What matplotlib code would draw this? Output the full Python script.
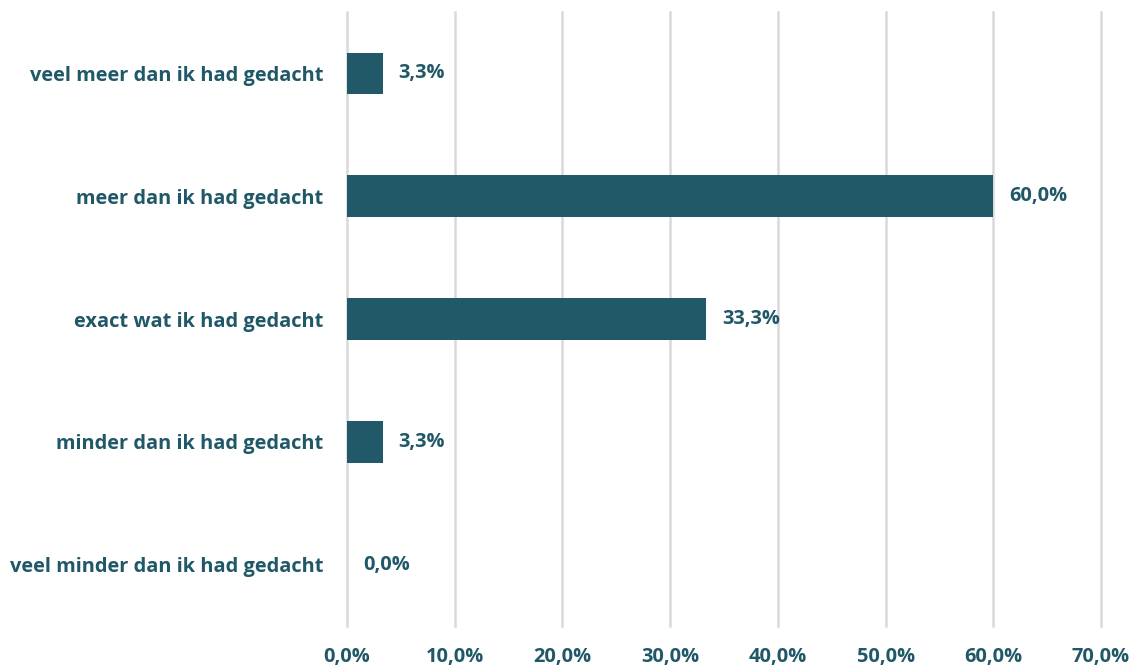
import matplotlib
matplotlib.use("Agg")
import matplotlib.pyplot as plt
from matplotlib.ticker import FuncFormatter

categories = [
    "veel meer dan ik had gedacht",
    "meer dan ik had gedacht",
    "exact wat ik had gedacht",
    "minder dan ik had gedacht",
    "veel minder dan ik had gedacht",
]
values = [3.3, 60.0, 33.3, 3.3, 0.0]
xticks = [0, 10, 20, 30, 40, 50, 60, 70]

BAR = "#215968"
TEXT = "#215868"
GRID = "#d9d9d9"
FS = 14.4

plt.rcParams["font.family"] = ["Open Sans", "DejaVu Sans"]

fig = plt.figure(figsize=(11.37, 6.68), dpi=100)
ax = fig.add_axes([347 / 1137, 1 - 626 / 668, (1101 - 347) / 1137, (626 - 12) / 668])

ypos = list(range(len(categories)))[::-1]
ax.barh(ypos, values, height=0.34, color=BAR, zorder=3)

for y, v in zip(ypos, values):
    ax.text(v + 1.5, y, f"{v:.1f}%".replace(".", ","), va="center", ha="left",
            color=TEXT, fontsize=FS, fontweight="bold", zorder=4)

ax.set_xlim(0, 70)
ax.set_ylim(-0.5, 4.5)
ax.set_xticks(xticks)
ax.xaxis.set_major_formatter(FuncFormatter(lambda x, _: f"{x:.1f}%".replace(".", ",")))
ax.set_yticks(ypos)
ax.set_yticklabels(categories)

ax.grid(axis="x", color=GRID, linewidth=1.8, zorder=0)
# keep the outer gridlines at full width
for gl in ax.get_xgridlines():
    gl.set_clip_on(False)
for s in ax.spines.values():
    s.set_visible(False)
ax.tick_params(axis="both", length=0, colors=TEXT, labelsize=FS)
ax.tick_params(axis="x", pad=15)
ax.tick_params(axis="y", pad=17)
for lab in ax.get_xticklabels() + ax.get_yticklabels():
    lab.set_fontweight("bold")
    lab.set_color(TEXT)

fig.savefig("out.png", dpi=100)
